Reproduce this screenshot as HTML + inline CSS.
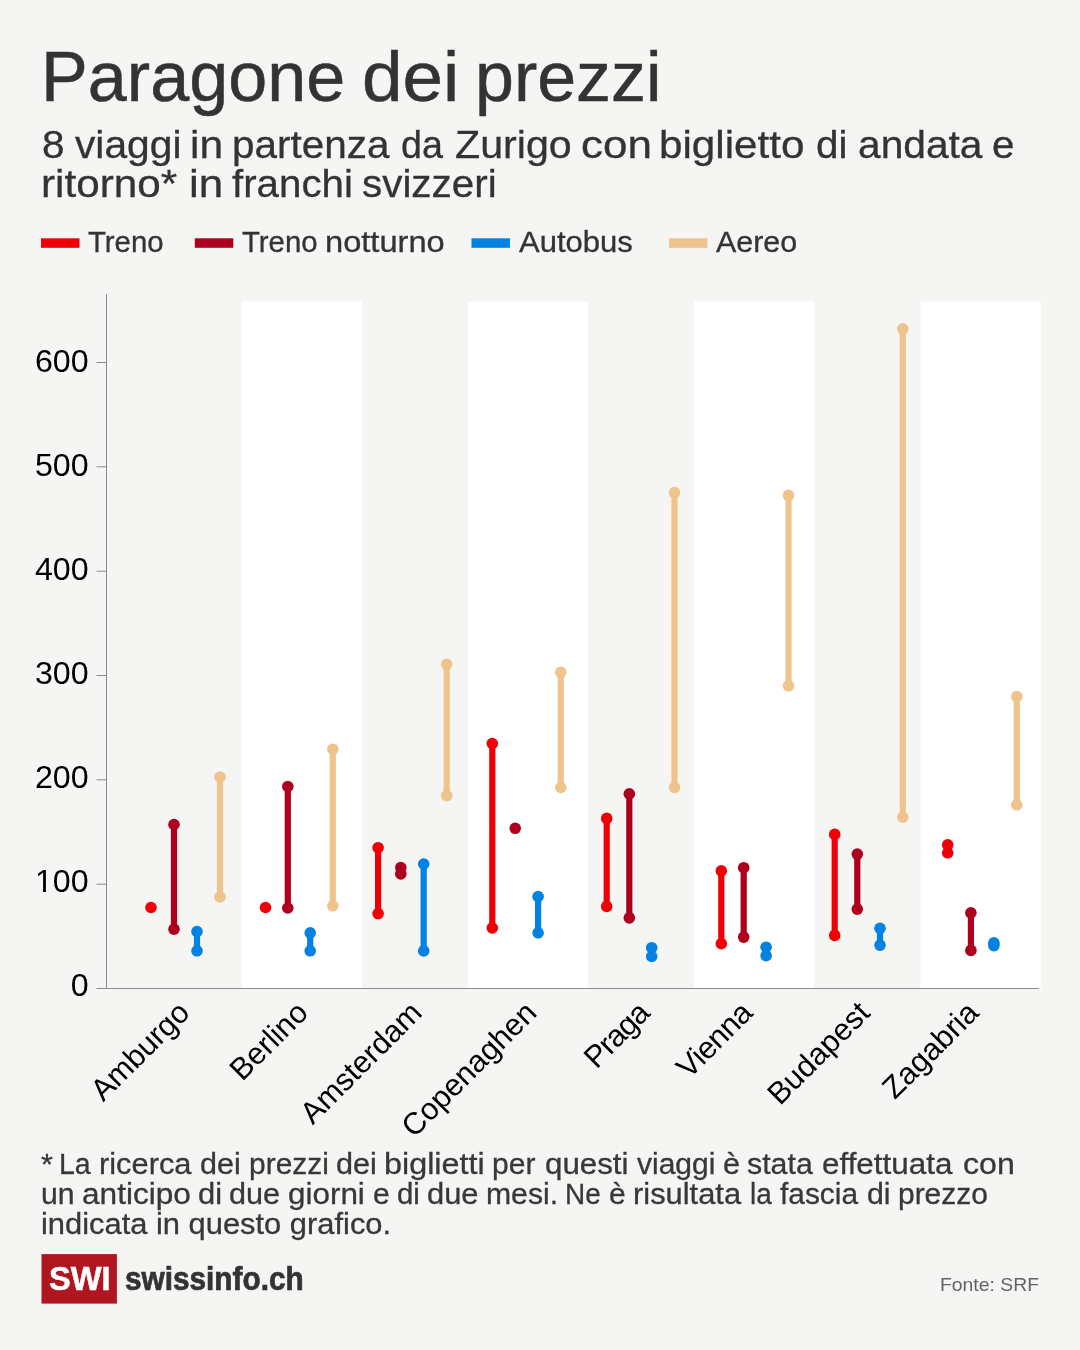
<!DOCTYPE html>
<html lang="it"><head><meta charset="utf-8"><title>Paragone dei prezzi</title>
<style>
html,body{margin:0;padding:0;}
body{width:1080px;height:1350px;background:#f5f5f3;position:relative;overflow:hidden;font-family:"Liberation Sans", sans-serif;}
.t{position:absolute;white-space:nowrap;line-height:1;margin:0;padding:0;transform-origin:0 0;}
.w{position:absolute;top:0;white-space:nowrap;line-height:1;transform-origin:0 0;}
svg{position:absolute;left:0;top:0;}
svg text{font-family:"Liberation Sans", sans-serif;}
</style></head><body>
<svg width="1080" height="1350" viewBox="0 0 1080 1350">
<rect x="241.5" y="301.7" width="120.5" height="686.8" fill="#ffffff"/>
<rect x="468.0" y="301.7" width="120.0" height="686.8" fill="#ffffff"/>
<rect x="694.0" y="301.7" width="120.3" height="686.8" fill="#ffffff"/>
<rect x="920.4" y="301.7" width="120.4" height="686.8" fill="#ffffff"/>
<rect x="41.0" y="238.3" width="38.5" height="9.5" fill="#ef0006"/>
<rect x="194.8" y="238.3" width="38.5" height="9.5" fill="#ae001e"/>
<rect x="471.5" y="238.3" width="38.5" height="9.5" fill="#0282e3"/>
<rect x="669.0" y="238.3" width="38.5" height="9.5" fill="#efc48c"/>
<g stroke="#8b8b8b" stroke-width="1" fill="none">
<line x1="106.5" y1="294" x2="106.5" y2="988.5"/>
<line x1="106.5" y1="988.5" x2="1039" y2="988.5"/>
<line x1="96.5" y1="988.5" x2="106.5" y2="988.5"/>
<line x1="96.5" y1="884.2" x2="106.5" y2="884.2"/>
<line x1="96.5" y1="779.8" x2="106.5" y2="779.8"/>
<line x1="96.5" y1="675.5" x2="106.5" y2="675.5"/>
<line x1="96.5" y1="571.2" x2="106.5" y2="571.2"/>
<line x1="96.5" y1="466.8" x2="106.5" y2="466.8"/>
<line x1="96.5" y1="362.5" x2="106.5" y2="362.5"/>
</g>
<g font-size="30.8" fill="#000000" text-anchor="end">
<text transform="translate(88.6,996.1) scale(1.045,1)" x="0" y="0">0</text>
<text transform="translate(88.6,892.1) scale(1.045,1)" x="0" y="0">100</text>
<text transform="translate(88.6,788.1) scale(1.045,1)" x="0" y="0">200</text>
<text transform="translate(88.6,684.1) scale(1.045,1)" x="0" y="0">300</text>
<text transform="translate(88.6,580.1) scale(1.045,1)" x="0" y="0">400</text>
<text transform="translate(88.6,476.1) scale(1.045,1)" x="0" y="0">500</text>
<text transform="translate(88.6,372.1) scale(1.045,1)" x="0" y="0">600</text>
</g>
<rect x="36" y="888.4" width="7.05" height="4" fill="#f5f5f3"/><rect x="45.95" y="888.4" width="6.6" height="4" fill="#f5f5f3"/>
<g font-size="30.7" fill="#000000" text-anchor="end">
<text transform="translate(191.4,1014.5) rotate(-45)" x="0.0" y="0">Amburgo</text>
<text transform="translate(309.7,1014.5) rotate(-45)" x="0.0" y="0">Berlino</text>
<text transform="translate(423.6,1014.5) rotate(-45)" x="0.0" y="0">Amsterdam</text>
<text transform="translate(538.2,1014.5) rotate(-45)" x="0.0" y="0">Copenaghen</text>
<text transform="translate(651.6,1014.5) rotate(-45)" x="-0.9" y="0" letter-spacing="-0.95">Praga</text>
<text transform="translate(754.3,1014.5) rotate(-45)" x="-0.6" y="0" letter-spacing="-0.55">Vienna</text>
<text transform="translate(871.6,1014.5) rotate(-45)" x="0.0" y="0">Budapest</text>
<text transform="translate(980.4,1014.5) rotate(-45)" x="0.0" y="0">Zagabria</text>
</g>
<circle cx="151.0" cy="907.5" r="5.8" fill="#ef0006"/>
<line x1="174.0" y1="824.5" x2="174.0" y2="929.2" stroke="#ae001e" stroke-width="6.2"/>
<circle cx="174.0" cy="824.5" r="5.8" fill="#ae001e"/>
<circle cx="174.0" cy="929.2" r="5.8" fill="#ae001e"/>
<line x1="197.0" y1="931.5" x2="197.0" y2="950.8" stroke="#0282e3" stroke-width="6.2"/>
<circle cx="197.0" cy="931.5" r="5.8" fill="#0282e3"/>
<circle cx="197.0" cy="950.8" r="5.8" fill="#0282e3"/>
<line x1="220.0" y1="777.0" x2="220.0" y2="897.0" stroke="#efc48c" stroke-width="6.2"/>
<circle cx="220.0" cy="777.0" r="5.8" fill="#efc48c"/>
<circle cx="220.0" cy="897.0" r="5.8" fill="#efc48c"/>
<circle cx="265.5" cy="907.5" r="5.8" fill="#ef0006"/>
<line x1="287.8" y1="786.5" x2="287.8" y2="908.0" stroke="#ae001e" stroke-width="6.2"/>
<circle cx="287.8" cy="786.5" r="5.8" fill="#ae001e"/>
<circle cx="287.8" cy="908.0" r="5.8" fill="#ae001e"/>
<line x1="310.2" y1="932.8" x2="310.2" y2="950.8" stroke="#0282e3" stroke-width="6.2"/>
<circle cx="310.2" cy="932.8" r="5.8" fill="#0282e3"/>
<circle cx="310.2" cy="950.8" r="5.8" fill="#0282e3"/>
<line x1="332.8" y1="749.2" x2="332.8" y2="905.8" stroke="#efc48c" stroke-width="6.2"/>
<circle cx="332.8" cy="749.2" r="5.8" fill="#efc48c"/>
<circle cx="332.8" cy="905.8" r="5.8" fill="#efc48c"/>
<line x1="378.1" y1="847.7" x2="378.1" y2="913.6" stroke="#ef0006" stroke-width="6.2"/>
<circle cx="378.1" cy="847.7" r="5.8" fill="#ef0006"/>
<circle cx="378.1" cy="913.6" r="5.8" fill="#ef0006"/>
<line x1="400.8" y1="867.5" x2="400.8" y2="873.9" stroke="#ae001e" stroke-width="6.2"/>
<circle cx="400.8" cy="867.5" r="5.8" fill="#ae001e"/>
<circle cx="400.8" cy="873.9" r="5.8" fill="#ae001e"/>
<line x1="423.7" y1="864.0" x2="423.7" y2="950.9" stroke="#0282e3" stroke-width="6.2"/>
<circle cx="423.7" cy="864.0" r="5.8" fill="#0282e3"/>
<circle cx="423.7" cy="950.9" r="5.8" fill="#0282e3"/>
<line x1="446.7" y1="664.3" x2="446.7" y2="795.7" stroke="#efc48c" stroke-width="6.2"/>
<circle cx="446.7" cy="664.3" r="5.8" fill="#efc48c"/>
<circle cx="446.7" cy="795.7" r="5.8" fill="#efc48c"/>
<line x1="492.3" y1="743.5" x2="492.3" y2="928.0" stroke="#ef0006" stroke-width="6.2"/>
<circle cx="492.3" cy="743.5" r="5.8" fill="#ef0006"/>
<circle cx="492.3" cy="928.0" r="5.8" fill="#ef0006"/>
<circle cx="515.2" cy="828.3" r="5.8" fill="#ae001e"/>
<line x1="538.1" y1="896.5" x2="538.1" y2="932.8" stroke="#0282e3" stroke-width="6.2"/>
<circle cx="538.1" cy="896.5" r="5.8" fill="#0282e3"/>
<circle cx="538.1" cy="932.8" r="5.8" fill="#0282e3"/>
<line x1="560.8" y1="672.3" x2="560.8" y2="787.5" stroke="#efc48c" stroke-width="6.2"/>
<circle cx="560.8" cy="672.3" r="5.8" fill="#efc48c"/>
<circle cx="560.8" cy="787.5" r="5.8" fill="#efc48c"/>
<line x1="606.7" y1="818.4" x2="606.7" y2="906.4" stroke="#ef0006" stroke-width="6.2"/>
<circle cx="606.7" cy="818.4" r="5.8" fill="#ef0006"/>
<circle cx="606.7" cy="906.4" r="5.8" fill="#ef0006"/>
<line x1="629.3" y1="793.9" x2="629.3" y2="917.9" stroke="#ae001e" stroke-width="6.2"/>
<circle cx="629.3" cy="793.9" r="5.8" fill="#ae001e"/>
<circle cx="629.3" cy="917.9" r="5.8" fill="#ae001e"/>
<line x1="651.7" y1="947.7" x2="651.7" y2="956.5" stroke="#0282e3" stroke-width="6.2"/>
<circle cx="651.7" cy="947.7" r="5.8" fill="#0282e3"/>
<circle cx="651.7" cy="956.5" r="5.8" fill="#0282e3"/>
<line x1="674.5" y1="492.6" x2="674.5" y2="787.5" stroke="#efc48c" stroke-width="6.2"/>
<circle cx="674.5" cy="492.6" r="5.8" fill="#efc48c"/>
<circle cx="674.5" cy="787.5" r="5.8" fill="#efc48c"/>
<line x1="721.3" y1="870.9" x2="721.3" y2="943.7" stroke="#ef0006" stroke-width="6.2"/>
<circle cx="721.3" cy="870.9" r="5.8" fill="#ef0006"/>
<circle cx="721.3" cy="943.7" r="5.8" fill="#ef0006"/>
<line x1="743.7" y1="867.7" x2="743.7" y2="937.1" stroke="#ae001e" stroke-width="6.2"/>
<circle cx="743.7" cy="867.7" r="5.8" fill="#ae001e"/>
<circle cx="743.7" cy="937.1" r="5.8" fill="#ae001e"/>
<line x1="766.1" y1="947.2" x2="766.1" y2="955.7" stroke="#0282e3" stroke-width="6.2"/>
<circle cx="766.1" cy="947.2" r="5.8" fill="#0282e3"/>
<circle cx="766.1" cy="955.7" r="5.8" fill="#0282e3"/>
<line x1="788.5" y1="495.4" x2="788.5" y2="685.8" stroke="#efc48c" stroke-width="6.2"/>
<circle cx="788.5" cy="495.4" r="5.8" fill="#efc48c"/>
<circle cx="788.5" cy="685.8" r="5.8" fill="#efc48c"/>
<line x1="834.7" y1="834.4" x2="834.7" y2="935.4" stroke="#ef0006" stroke-width="6.2"/>
<circle cx="834.7" cy="834.4" r="5.8" fill="#ef0006"/>
<circle cx="834.7" cy="935.4" r="5.8" fill="#ef0006"/>
<line x1="857.3" y1="854.1" x2="857.3" y2="909.1" stroke="#ae001e" stroke-width="6.2"/>
<circle cx="857.3" cy="854.1" r="5.8" fill="#ae001e"/>
<circle cx="857.3" cy="909.1" r="5.8" fill="#ae001e"/>
<line x1="880.0" y1="928.3" x2="880.0" y2="945.1" stroke="#0282e3" stroke-width="6.2"/>
<circle cx="880.0" cy="928.3" r="5.8" fill="#0282e3"/>
<circle cx="880.0" cy="945.1" r="5.8" fill="#0282e3"/>
<line x1="902.8" y1="328.9" x2="902.8" y2="817.1" stroke="#efc48c" stroke-width="6.2"/>
<circle cx="902.8" cy="328.9" r="5.8" fill="#efc48c"/>
<circle cx="902.8" cy="817.1" r="5.8" fill="#efc48c"/>
<line x1="947.7" y1="844.8" x2="947.7" y2="852.8" stroke="#ef0006" stroke-width="6.2"/>
<circle cx="947.7" cy="844.8" r="5.8" fill="#ef0006"/>
<circle cx="947.7" cy="852.8" r="5.8" fill="#ef0006"/>
<line x1="970.9" y1="912.8" x2="970.9" y2="950.4" stroke="#ae001e" stroke-width="6.2"/>
<circle cx="970.9" cy="912.8" r="5.8" fill="#ae001e"/>
<circle cx="970.9" cy="950.4" r="5.8" fill="#ae001e"/>
<line x1="993.9" y1="942.9" x2="993.9" y2="945.6" stroke="#0282e3" stroke-width="6.2"/>
<circle cx="993.9" cy="942.9" r="5.8" fill="#0282e3"/>
<circle cx="993.9" cy="945.6" r="5.8" fill="#0282e3"/>
<line x1="1016.8" y1="696.5" x2="1016.8" y2="804.8" stroke="#efc48c" stroke-width="6.2"/>
<circle cx="1016.8" cy="696.5" r="5.8" fill="#efc48c"/>
<circle cx="1016.8" cy="804.8" r="5.8" fill="#efc48c"/>
<rect x="41.5" y="1254.1" width="75.4" height="49.5" fill="#b0161f"/>
</svg>
<h1 class="t" id="t0" style="left:0;top:41.74px;width:1080px;height:70px;font-size:70px;color:#333333;font-weight:400;-webkit-text-stroke:0.5px #333333;"><span class="w" style="left:40.79px;transform:scaleX(1.0024)">Paragone</span> <span class="w" style="left:361.88px;transform:scaleX(1.0407)">dei</span> <span class="w" style="left:474.70px;transform:scaleX(0.9988)">prezzi</span></h1>
<p class="t" id="t1" style="left:0;top:125.63px;width:1080px;height:38px;font-size:38px;color:#333333;font-weight:400;-webkit-text-stroke:0.3px #333333;"><span class="w" style="left:41.53px;transform:scaleX(1.0662)">8</span> <span class="w" style="left:75.01px;transform:scaleX(1.0721)">viaggi</span> <span class="w" style="left:190.06px;transform:scaleX(1.1193)">in</span> <span class="w" style="left:231.87px;transform:scaleX(1.0649)">partenza</span> <span class="w" style="left:401.18px;transform:scaleX(0.9916)">da</span> <span class="w" style="left:454.92px;transform:scaleX(1.0843)">Zurigo</span> <span class="w" style="left:580.96px;transform:scaleX(1.1570)">con</span> <span class="w" style="left:659.48px;transform:scaleX(1.1113)">biglietto</span> <span class="w" style="left:815.94px;transform:scaleX(1.0639)">di</span> <span class="w" style="left:857.67px;transform:scaleX(1.0713)">andata</span> <span class="w" style="left:992.40px;transform:scaleX(1.0662)">e</span></p>
<p class="t" id="t2" style="left:0;top:165.33px;width:1080px;height:38px;font-size:38px;color:#333333;font-weight:400;-webkit-text-stroke:0.3px #333333;"><span class="w" style="left:41.08px;transform:scaleX(1.1115)">ritorno*</span> <span class="w" style="left:188.59px;transform:scaleX(1.1548)">in</span> <span class="w" style="left:232.20px;transform:scaleX(1.0598)">franchi</span> <span class="w" style="left:362.24px;transform:scaleX(1.0631)">svizzeri</span></p>
<span class="t" id="t3" style="left:88.00px;top:227.95px;font-size:29px;color:#333333;font-weight:400;transform:scaleX(1.0125);-webkit-text-stroke:0.3px #333333;">Treno</span>
<span class="t" id="t4" style="left:0;top:227.95px;width:1080px;height:29px;font-size:29px;color:#333333;font-weight:400;-webkit-text-stroke:0.3px #333333;"><span class="w" style="left:242.20px;transform:scaleX(1.0125)">Treno</span> <span class="w" style="left:324.68px;transform:scaleX(1.1250)">notturno</span></span>
<span class="t" id="t5" style="left:519.33px;top:227.95px;font-size:29px;color:#333333;font-weight:400;transform:scaleX(1.0696);-webkit-text-stroke:0.3px #333333;">Autobus</span>
<span class="t" id="t6" style="left:716.02px;top:227.95px;font-size:29px;color:#333333;font-weight:400;transform:scaleX(1.0486);-webkit-text-stroke:0.3px #333333;">Aereo</span>
<p class="t" id="t7" style="left:0;top:1149.65px;width:1080px;height:29px;font-size:29px;color:#383838;font-weight:400;-webkit-text-stroke:0.3px #383838;"><span class="w" style="left:41.42px;transform:scaleX(1.0549)">*</span> <span class="w" style="left:59.13px;transform:scaleX(0.9811)">La</span> <span class="w" style="left:98.90px;transform:scaleX(1.0629)">ricerca</span> <span class="w" style="left:200.25px;transform:scaleX(1.0528)">dei</span> <span class="w" style="left:248.52px;transform:scaleX(1.0327)">prezzi</span> <span class="w" style="left:335.64px;transform:scaleX(1.0556)">dei</span> <span class="w" style="left:383.88px;transform:scaleX(1.1155)">biglietti</span> <span class="w" style="left:491.51px;transform:scaleX(1.0354)">per</span> <span class="w" style="left:544.72px;transform:scaleX(1.0787)">questi</span> <span class="w" style="left:636.72px;transform:scaleX(1.0349)">viaggi</span> <span class="w" style="left:722.81px;transform:scaleX(1.0549)">è</span> <span class="w" style="left:747.40px;transform:scaleX(1.0458)">stata</span> <span class="w" style="left:822.22px;transform:scaleX(1.0833)">effettuata</span> <span class="w" style="left:963.09px;transform:scaleX(1.1060)">con</span></p>
<p class="t" id="t8" style="left:0;top:1180.45px;width:1080px;height:29px;font-size:29px;color:#383838;font-weight:400;-webkit-text-stroke:0.3px #383838;"><span class="w" style="left:40.72px;transform:scaleX(1.0413)">un</span> <span class="w" style="left:81.91px;transform:scaleX(1.0898)">anticipo</span> <span class="w" style="left:198.44px;transform:scaleX(1.0650)">di</span> <span class="w" style="left:229.45px;transform:scaleX(1.0545)">due</span> <span class="w" style="left:288.12px;transform:scaleX(1.0835)">giorni</span> <span class="w" style="left:372.57px;transform:scaleX(1.0353)">e</span> <span class="w" style="left:396.99px;transform:scaleX(1.0150)">di</span> <span class="w" style="left:427.23px;transform:scaleX(1.0653)">due</span> <span class="w" style="left:486.12px;transform:scaleX(1.0399)">mesi.</span> <span class="w" style="left:565.46px;transform:scaleX(0.9629)">Ne</span> <span class="w" style="left:608.82px;transform:scaleX(1.0353)">è</span> <span class="w" style="left:633.10px;transform:scaleX(1.0647)">risultata</span> <span class="w" style="left:749.71px;transform:scaleX(0.9629)">la</span> <span class="w" style="left:780.00px;transform:scaleX(1.0301)">fascia</span> <span class="w" style="left:867.25px;transform:scaleX(1.0450)">di</span> <span class="w" style="left:898.22px;transform:scaleX(1.0323)">prezzo</span></p>
<p class="t" id="t9" style="left:41.11px;top:1210.45px;font-size:29px;color:#383838;font-weight:400;transform:scaleX(1.0645);-webkit-text-stroke:0.3px #383838;">indicata in questo grafico.</p>
<span class="t" id="t10" style="left:940.10px;top:1274.72px;font-size:19px;color:#636363;font-weight:400;transform:scaleX(1.0193);">Fonte: SRF</span>
<span class="t" id="t11" style="left:125.01px;top:1261.97px;font-size:33px;color:#333333;font-weight:700;transform:scaleX(0.9020);-webkit-text-stroke:0.7px #333333;">swissinfo.ch</span>
<span class="t" id="t12" style="left:48.57px;top:1261.97px;font-size:33px;color:#ffffff;font-weight:700;transform:scaleX(0.9888);-webkit-text-stroke:0.5px #ffffff;">SWI</span>
</body></html>
